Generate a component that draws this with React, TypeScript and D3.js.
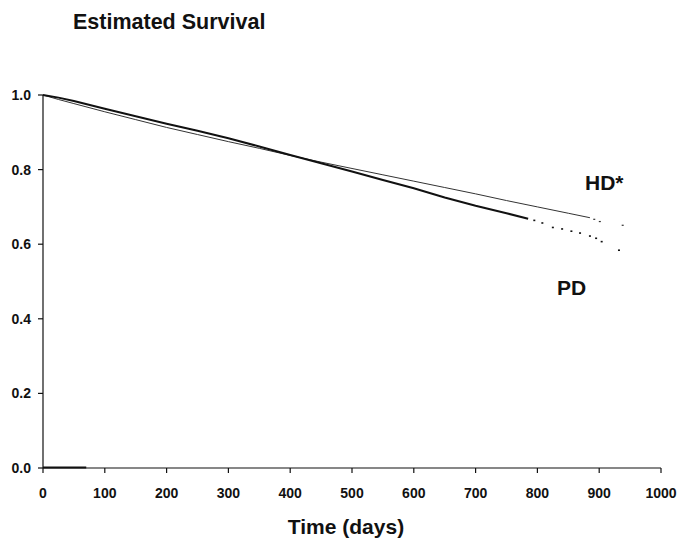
import React from "react";
import * as d3 from "d3";

const xTicks = [0, 100, 200, 300, 400, 500, 600, 700, 800, 900, 1000];
const yTicks = [0, 0.2, 0.4, 0.6, 0.8, 1.0];

const hdDays = [0, 25, 50, 100, 150, 200, 250, 300, 350, 400, 450, 500, 550, 600, 650, 700, 750, 800, 850, 885];
const hdSurv = [1.0, 0.988, 0.977, 0.955, 0.934, 0.913, 0.894, 0.875, 0.857, 0.838, 0.82, 0.803, 0.786, 0.769, 0.752, 0.735, 0.717, 0.7, 0.683, 0.671];
const hdDotDays = [892, 901, 938];
const hdDotSurv = [0.667, 0.661, 0.651];

const pdDays = [0, 25, 50, 100, 150, 200, 250, 300, 350, 400, 450, 500, 550, 600, 650, 700, 750, 785];
const pdSurv = [1.0, 0.993, 0.984, 0.963, 0.943, 0.923, 0.904, 0.884, 0.862, 0.839, 0.817, 0.795, 0.772, 0.75, 0.725, 0.703, 0.683, 0.668];
const pdDotDays = [795, 808, 825, 840, 855, 869, 885, 895, 904, 932];
const pdDotSurv = [0.664, 0.657, 0.645, 0.641, 0.635, 0.63, 0.622, 0.616, 0.607, 0.584];

const zeroSegDays = [0, 70];

export default function App() {
  const W = 683, H = 540;
  const x = d3.scaleLinear().domain([0, 1000]).range([43, 661]);
  const y = d3.scaleLinear().domain([0, 1]).range([468, 95]);
  const line = d3.line<[number, number]>().x(d => x(d[0])).y(d => y(d[1]));
  const hd = hdDays.map((d, i) => [d, hdSurv[i]] as [number, number]);
  const pd = pdDays.map((d, i) => [d, pdSurv[i]] as [number, number]);
  const font = "'Liberation Sans', Arial, sans-serif";
  return (
    <svg width={W} height={H} style={{ position: "absolute", left: 0, top: 0, background: "#fff" }} fontFamily={font}>
      <rect width={W} height={H} fill="#fff" />
      <text x={73} y={29} fontSize={21.5} fontWeight="bold" fill="#111">Estimated Survival</text>
      {/* axes */}
      <line x1={x(0)} x2={x(0)} y1={y(1)} y2={y(0)} stroke="#111" strokeWidth={1.2} />
      <line x1={x(0)} x2={x(1000)} y1={y(0)} y2={y(0)} stroke="#111" strokeWidth={1.2} />
      {yTicks.map(t => (
        <g key={"y" + t}>
          <line x1={x(0) - 5} x2={x(0)} y1={y(t)} y2={y(t)} stroke="#111" strokeWidth={1.2} />
          <text x={x(0) - 12} y={y(t)} dy="0.36em" textAnchor="end" fontSize={14} fontWeight="bold" fill="#111">{t.toFixed(1)}</text>
        </g>
      ))}
      {xTicks.map(t => (
        <g key={"x" + t}>
          <line x1={x(t)} x2={x(t)} y1={y(0)} y2={y(0) + 5} stroke="#111" strokeWidth={1.2} />
          <text x={x(t)} y={y(0) + 30} textAnchor="middle" fontSize={14} fontWeight="bold" fill="#111">{t}</text>
        </g>
      ))}
      <line x1={x(zeroSegDays[0])} x2={x(zeroSegDays[1])} y1={y(0) - 0.5} y2={y(0) - 0.5} stroke="#111" strokeWidth={2} />
      {/* curves */}
      <path d={line(hd) || ""} fill="none" stroke="#333" strokeWidth={1} />
      <path d={line(pd) || ""} fill="none" stroke="#111" strokeWidth={2} />
      {hdDotDays.map((d, i) => (
        <rect key={"hd" + i} x={x(d) - 1} y={y(hdDotSurv[i]) - 0.5} width={2} height={1.2} fill="#333" />
      ))}
      {pdDotDays.map((d, i) => (
        <rect key={"pd" + i} x={x(d) - 1} y={y(pdDotSurv[i]) - 0.75} width={2} height={1.6} fill="#111" />
      ))}
      <text x={585} y={190} fontSize={21} fontWeight="bold" fill="#111">HD*</text>
      <text x={557} y={295} fontSize={21} fontWeight="bold" fill="#111">PD</text>
      <text x={346} y={534} textAnchor="middle" fontSize={21} fontWeight="bold" fill="#111">Time (days)</text>
    </svg>
  );
}
